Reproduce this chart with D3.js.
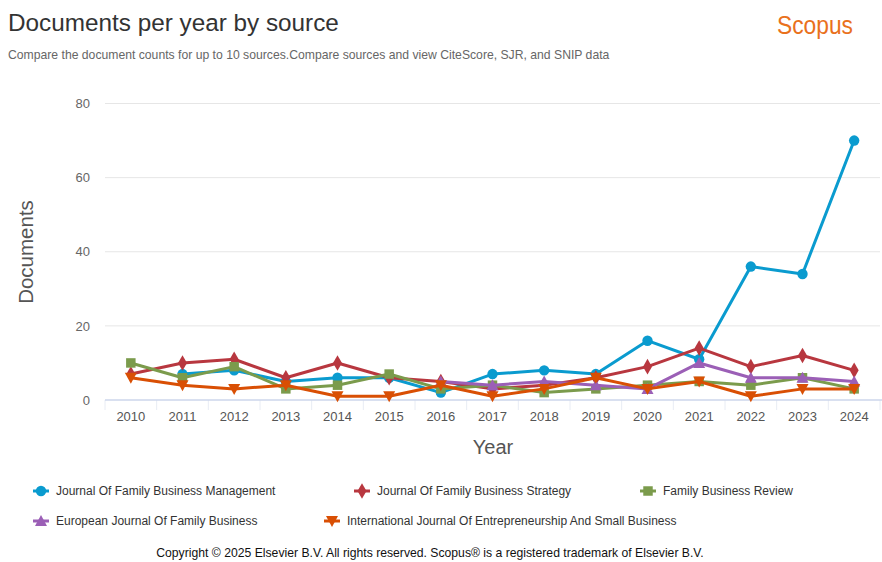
<!DOCTYPE html>
<html>
<head>
<meta charset="utf-8">
<script src="https://cdn.jsdelivr.net/npm/d3@7/dist/d3.min.js"></script>
<style>
  html, body { margin: 0; padding: 0; background: #fff; }
  svg { display: block; font-family: "Liberation Sans", Arial, sans-serif; }
</style>
</head>
<body>
<svg id="chart" width="882" height="562"></svg>
<script>
const years = [2010, 2011, 2012, 2013, 2014, 2015, 2016, 2017, 2018, 2019, 2020, 2021, 2022, 2023, 2024];
const yTicks = [0, 20, 40, 60, 80];
const seriesNames = [
  "Journal Of Family Business Management",
  "Journal Of Family Business Strategy",
  "Family Business Review",
  "European Journal Of Family Business",
  "International Journal Of Entrepreneurship And Small Business"
];
// null = no data for that year
const jfbm  = [null, 7, 8, 5, 6, 6, 2, 7, 8, 7, 16, 11, 36, 34, 70];
const jfbs  = [7, 10, 11, 6, 10, 6, 5, 3, 4, 6, 9, 14, 9, 12, 8];
const fbr   = [10, 6, 9, 3, 4, 7, 3, 4, 2, 3, 4, 5, 4, 6, 3];
const ejfb  = [null, null, null, null, null, null, 5, 4, 5, 4, 3, 10, 6, 6, 5];
const ijesb = [6, 4, 3, 4, 1, 1, 4, 1, 3, 6, 3, 5, 1, 3, 3];

const seriesValues = [jfbm, jfbs, fbr, ejfb, ijesb];
const colors = ["#0a9bcf", "#b8373f", "#7b9b4c", "#9b5fb6", "#d94f04"];
const symbols = [d3.symbolCircle, d3.symbolDiamond, d3.symbolSquare, "triUp", "triDown"];
const symSizes = [85, 70, 90, 80, 80];

const svg = d3.select("#chart");

// Titles
svg.append("text").attr("x", 8).attr("y", 31)
  .attr("font-size", 24.3).attr("fill", "#333").text("Documents per year by source");
svg.append("text").attr("x", 8).attr("y", 59)
  .attr("font-size", 12.2).attr("fill", "#666")
  .text("Compare the document counts for up to 10 sources.Compare sources and view CiteScore, SJR, and SNIP data");
svg.append("text").attr("x", 815).attr("y", 34).attr("text-anchor", "middle")
  .attr("font-size", 25).attr("fill", "#e9711c")
  .attr("textLength", 76).attr("lengthAdjust", "spacingAndGlyphs")
  .text("Scopus");

// Scales
const pLeft = 105, pRight = 880, pTop = 103.5, pBottom = 400;
const x = d3.scaleBand().domain(years).range([pLeft, pRight]).padding(0);
const y = d3.scaleLinear().domain([0, 80]).range([pBottom, pTop]);
const cx = d => x(d) + x.bandwidth() / 2;

// Gridlines
svg.append("g").selectAll("line").data(yTicks.filter(t => t !== 0)).join("line")
  .attr("x1", pLeft).attr("x2", pRight)
  .attr("y1", d => y(d)).attr("y2", d => y(d))
  .attr("stroke", "#e6e6e6").attr("stroke-width", 1);

// Y axis labels
const yAxis = d3.axisLeft(y).tickValues(yTicks).tickSize(0).tickPadding(0);
const gy = svg.append("g").attr("transform", `translate(${pLeft - 15},0)`).call(yAxis);
gy.select(".domain").remove();
gy.selectAll("text").attr("font-size", 13).attr("fill", "#666")
  .attr("font-family", "'Liberation Sans', Arial, sans-serif");

// X axis
const xAxis = d3.axisBottom(x).tickSize(0).tickPadding(12);
const gx = svg.append("g").attr("transform", `translate(0,${pBottom})`).call(xAxis);
gx.select(".domain").remove();
gx.selectAll("text").attr("font-size", 13).attr("fill", "#555")
  .attr("font-family", "'Liberation Sans', Arial, sans-serif");
// Tick marks at category boundaries
const bounds = years.map(d => x(d)).concat([x(years[years.length - 1]) + x.bandwidth()]);
svg.append("g").selectAll("line").data(bounds).join("line")
  .attr("x1", d => d).attr("x2", d => d)
  .attr("y1", pBottom).attr("y2", pBottom + 10)
  .attr("stroke", "#e8ecf4").attr("stroke-width", 1);
svg.append("line").attr("x1", pLeft).attr("x2", pRight + 2)
  .attr("y1", pBottom).attr("y2", pBottom)
  .attr("stroke", "#ccd6eb").attr("stroke-width", 1.5);

// Axis titles
svg.append("text").attr("x", 493).attr("y", 454).attr("text-anchor", "middle")
  .attr("font-size", 20).attr("fill", "#555").text("Year");
svg.append("text").attr("transform", "translate(33,252) rotate(-90)")
  .attr("text-anchor", "middle").attr("font-size", 20.5).attr("fill", "#555").text("Documents");

// Marker path helper
function markerPath(i) {
  const s = symbols[i];
  if (s === "triUp") return "M0,-6L6,5L-6,5Z";
  if (s === "triDown") return "M0,6L6,-5L-6,-5Z";
  return d3.symbol().type(s).size(symSizes[i])();
}

// Lines
const line = d3.line()
  .defined(d => d.v !== null)
  .x(d => cx(d.year)).y(d => y(d.v));

seriesValues.forEach((vals, i) => {
  const data = years.map((yr, k) => ({ year: yr, v: vals[k] }));
  const g = svg.append("g");
  g.append("path").datum(data).attr("d", line)
    .attr("fill", "none").attr("stroke", colors[i]).attr("stroke-width", 3)
    .attr("stroke-linejoin", "round").attr("stroke-linecap", "round");
  g.selectAll("path.m").data(data.filter(d => d.v !== null)).join("path")
    .attr("class", "m")
    .attr("transform", d => `translate(${cx(d.year)},${y(d.v)})`)
    .attr("d", markerPath(i)).attr("fill", colors[i]);
});

// Legend
const legendPos = [
  { x: 56, y: 495 }, { x: 377, y: 495 }, { x: 663, y: 495 },
  { x: 56, y: 525 }, { x: 347, y: 525 }
];
seriesNames.forEach((name, i) => {
  const p = legendPos[i];
  const g = svg.append("g");
  g.append("line").attr("x1", p.x - 23).attr("x2", p.x - 7)
    .attr("y1", p.y - 4).attr("y2", p.y - 4)
    .attr("stroke", colors[i]).attr("stroke-width", 3);
  g.append("path").attr("transform", `translate(${p.x - 15},${p.y - 4})`)
    .attr("d", markerPath(i)).attr("fill", colors[i]);
  g.append("text").attr("x", p.x).attr("y", p.y)
    .attr("font-size", 12).attr("fill", "#333").text(name);
});

// Copyright
svg.append("text").attr("x", 430).attr("y", 557).attr("text-anchor", "middle")
  .attr("font-size", 12.2).attr("fill", "#111")
  .text("Copyright \u00A9 2025 Elsevier B.V. All rights reserved. Scopus\u00AE is a registered trademark of Elsevier B.V.");
</script>
</body>
</html>
